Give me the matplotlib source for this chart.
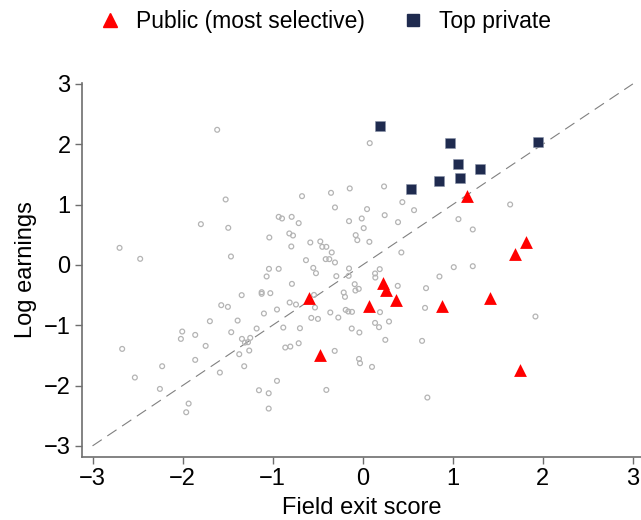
import matplotlib
matplotlib.use("Agg")
import matplotlib.pyplot as plt
from matplotlib.lines import Line2D

plt.rcParams['font.family'] = ['Liberation Sans', 'DejaVu Sans']

# all fields (hollow gray circles)
other_x = [-1.616, -1.522, -1.797, -1.493, -2.700, -2.471, -1.463, -1.037, -1.041, -0.933,
           -1.067, -0.933, -0.896, -0.789, -0.674, -0.711, -0.815, -0.774, -0.793, -0.630,
           -0.582, -0.471, -0.449, -0.404, -0.344, -0.411, -0.371, -0.308, -0.549, -0.519,
           -0.352, -0.308, -0.293, 0.078, -0.144, 0.237, 0.440, 0.048, 0.570, 1.637,
           -0.152, -0.011, 0.244, 0.392, 0.011, 1.063, 1.222, -0.078, -0.060, 0.074,
           0.429, -0.152, -0.156, 0.189, 0.137, 0.140, 0.852, 1.011, 1.222, -2.671,
           -2.530, -2.252, -2.227, -1.960, -1.933, -2.019, -2.004, -1.860, -1.860, -1.744,
           -1.697, -1.586, -1.571, -1.497, -1.460, -1.389, -1.344, -1.341, -1.308, -1.274,
           -1.249, -1.371, -1.260, -1.316, -1.178, -1.152, -1.044, -1.044, -1.122, -1.122,
           -1.026, -1.097, -0.952, -0.811, -0.741, -0.882, -0.697, -0.860, -0.804, -0.711,
           -0.952, -0.404, -0.786, -0.541, -0.530, -0.571, -0.497, -0.360, -0.271, -0.311,
           0.389, 0.703, -0.089, -0.081, -0.044, -0.211, -0.197, -0.189, -0.160, -0.119,
           0.192, 0.137, 0.181, 0.292, -0.122, -0.037, 0.251, 0.659, 0.692, -0.041,
           -0.030, 0.103, 0.718, 1.918]
other_y = [2.239, 1.084, 0.675, 0.614, 0.282, 0.100, 0.139, 0.454, -0.066, -0.066,
           -0.192, 0.796, 0.769, 0.796, 1.139, 0.692, 0.521, 0.487, 0.305, 0.078,
           0.371, 0.388, 0.299, 0.299, 0.206, 0.095, 0.095, 0.040, -0.050, -0.138,
           1.194, 0.952, -0.187, 2.018, 1.267, 1.300, 1.040, 0.924, 0.907, 1.001,
           0.725, 0.769, 0.824, 0.708, 0.609, 0.758, 0.587, 0.493, 0.410, 0.382,
           0.206, -0.060, -0.182, -0.071, -0.143, -0.210, -0.193, -0.038, -0.022, -1.393,
           -1.867, -2.056, -1.680, -2.443, -2.299, -1.227, -1.105, -1.161, -1.575, -1.343,
           -0.934, -1.785, -0.668, -0.696, -1.116, -0.923, -0.502, -1.227, -1.288, -1.282,
           -1.210, -1.481, -1.420, -1.680, -1.055, -2.078, -2.128, -2.382, -0.453, -0.480,
           -0.469, -0.806, -0.740, -0.624, -0.657, -1.039, -1.050, -1.370, -1.354, -1.299,
           -1.923, -2.073, -0.315, -0.498, -0.707, -0.879, -0.896, -0.789, -0.873, -1.426,
           -0.348, -0.386, -0.320, -0.425, -0.398, -0.458, -0.530, -0.746, -0.773, -0.779,
           -0.784, -0.962, -1.033, -0.939, -1.055, -1.121, -1.243, -1.260, -0.713, -1.559,
           -1.630, -1.691, -2.199, -0.856]

public_x = [1.159, 1.811, 1.692, -0.593, 0.222, 0.262, 0.367, 0.070, 0.881, 1.411, -0.474, 1.744]
public_y = [1.134, 0.376, 0.177, -0.547, -0.299, -0.420, -0.580, -0.690, -0.680, -0.557, -1.497, -1.741]

private_x = [0.196, 0.973, 1.951, 1.059, 1.307, 0.844, 1.078, 0.533]
private_y = [2.295, 2.013, 2.035, 1.670, 1.582, 1.388, 1.433, 1.260]

navy = '#1f2b4f'
axis_gray = '#6e6e6e'

fig = plt.figure(figsize=(6.41, 5.2), dpi=100)
ax = fig.add_axes([0.1275, 0.1217, 0.8725, 0.7193])

ax.plot([-3, 3], [-3, 3], color='#808080', lw=0.8, linestyle=(0, (10, 6)), zorder=1)
ax.scatter(other_x, other_y, s=12, facecolors='none', edgecolors='#b4b4b4',
           linewidths=0.9, zorder=2)
ax.scatter(public_x, public_y, s=85, marker='^', color='#ff0000', linewidths=0, zorder=3)
ax.scatter(private_x, private_y, s=55, marker='s', color=navy, edgecolors='#8a93a8',
           linewidths=0.4, zorder=3)

ax.set_xlim(-3.12, 3.09)
ax.set_ylim(-3.18, 3.02)
ax.set_xticks(range(-3, 4))
ax.set_yticks(range(-3, 4))
ax.set_xticklabels(['\u22123', '\u22122', '\u22121', '0', '1', '2', '3'])
ax.set_yticklabels(['\u22123', '\u22122', '\u22121', '0', '1', '2', '3'])

for s in ['top', 'right']:
    ax.spines[s].set_visible(False)
for s in ['left', 'bottom']:
    ax.spines[s].set_color(axis_gray)
    ax.spines[s].set_linewidth(1.2)
ax.tick_params(axis='both', direction='out', length=5, width=1, color=axis_gray,
               labelsize=17, labelcolor='black', pad=3)

ax.set_xlabel('Field exit score', fontsize=17, labelpad=5)
ax.set_ylabel('Log earnings', fontsize=17, labelpad=5)

handles = [
    Line2D([], [], marker='^', color='#ff0000', linestyle='none', markersize=10),
    Line2D([], [], marker='s', color=navy, linestyle='none', markersize=8),
]
fig.legend(handles, ['Public (most selective)', 'Top private'], loc='upper center',
           bbox_to_anchor=(0.505, 1.02), ncol=2, frameon=False, fontsize=16.5,
           handlelength=1.2, handletextpad=0.55, columnspacing=1.5)

fig.savefig('out.png', dpi=100)
